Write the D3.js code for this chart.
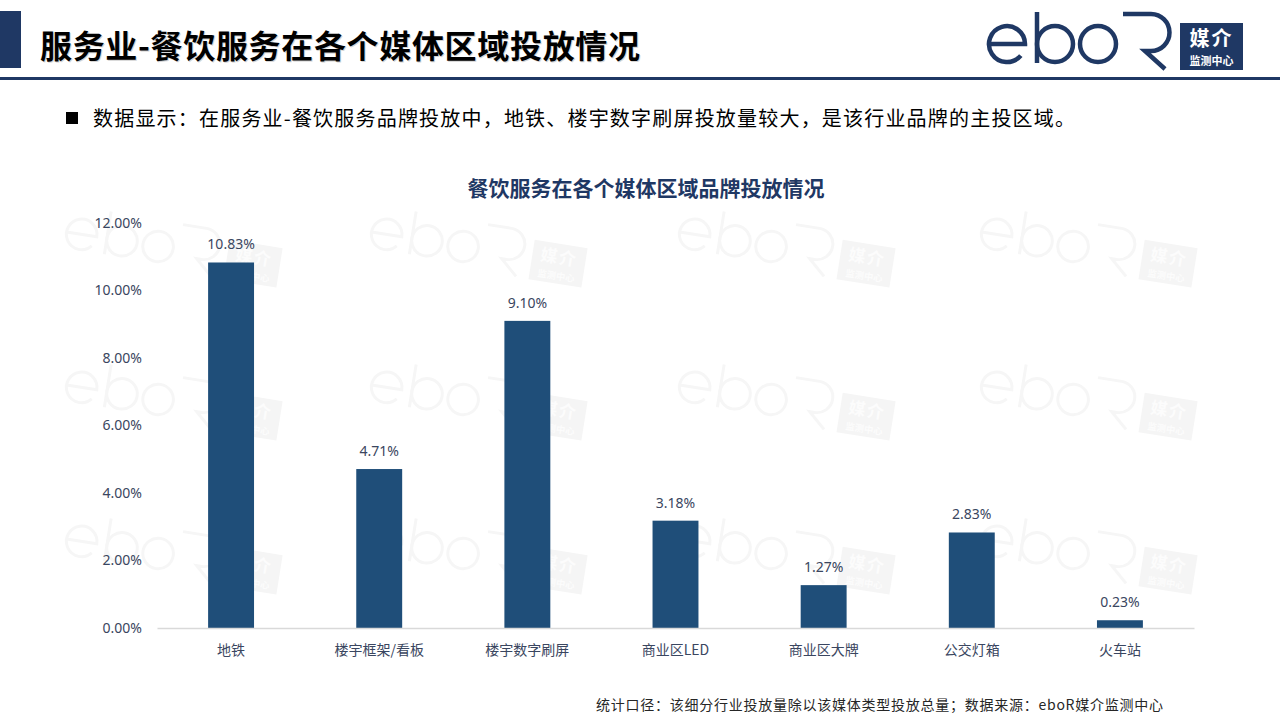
<!DOCTYPE html>
<html lang="zh">
  <head>
    <meta charset="UTF-8" />
    <title>餐饮服务在各个媒体区域投放情况</title>
    <script src="https://cdn.jsdelivr.net/npm/d3@7"></script>
    <style>
      html, body { margin: 0; padding: 0; background: #fff; }
      svg { display: block; font-family: "Noto Sans CJK SC", "Noto Sans", sans-serif; }
    </style>
  </head>
  <body>
    <svg width="1280" height="720"></svg>
  </body>

  <script>
    // 数据
    var categories = ['地铁', '楼宇框架/看板', '楼宇数字刷屏', '商业区LED', '商业区大牌', '公交灯箱', '火车站'];
    var values = [10.83, 4.71, 9.10, 3.18, 1.27, 2.83, 0.23];
    var yTicks = [0, 2, 4, 6, 8, 10, 12];

    var navy = '#1f3864';
    var barColor = '#1f4e79';
    var labelColor = '#3a4660';

    var svg = d3.select('svg');

    // logo: eboR + 媒介监测中心
    function drawLogo(g, stroke, boxFill, boxText, sw) {
      g.append('path')
        .attr('d', 'M1,32 H37 A18,18 0 1 0 32.8,43.6')
        .attr('fill', 'none').attr('stroke', stroke).attr('stroke-width', sw);
      g.append('path')
        .attr('d', 'M49,0 V51')
        .attr('fill', 'none').attr('stroke', stroke).attr('stroke-width', sw);
      g.append('circle').attr('cx', 67).attr('cy', 32).attr('r', 18)
        .attr('fill', 'none').attr('stroke', stroke).attr('stroke-width', sw);
      g.append('circle').attr('cx', 110).attr('cy', 32).attr('r', 18)
        .attr('fill', 'none').attr('stroke', stroke).attr('stroke-width', sw);
      g.append('path')
        .attr('d', 'M135,2 H163 A18.5,18.5 0 0 1 163,39 H157 L177,57')
        .attr('fill', 'none').attr('stroke', stroke).attr('stroke-width', sw);
      g.append('rect').attr('x', 192).attr('y', 11).attr('width', 63).attr('height', 47)
        .attr('fill', boxFill);
      g.append('text').attr('x', 223.5).attr('y', 34).attr('text-anchor', 'middle')
        .attr('fill', boxText).attr('font-size', 20).attr('font-weight', 700)
        .attr('letter-spacing', 2).text('媒介');
      g.append('text').attr('x', 223.5).attr('y', 53).attr('text-anchor', 'middle')
        .attr('fill', boxText).attr('font-size', 11).attr('font-weight', 700)
        .text('监测中心');
    }

    // 水印
    var wmCols = [70, 375, 683, 985];
    var wmRows = [205, 358, 512];
    wmRows.forEach(function (y) {
      wmCols.forEach(function (x) {
        var w = svg.append('g')
          .attr('transform', 'translate(' + x + ',' + y + ') rotate(9) scale(0.85)');
        drawLogo(w, '#f6f6f6', '#f5f5f5', '#fcfcfc', 3.5);
      });
    });

    // 标题栏
    svg.append('rect').attr('x', 0).attr('y', 11).attr('width', 21).attr('height', 57).attr('fill', navy);
    var title = '服务业-餐饮服务在各个媒体区域投放情况';
    svg.append('text')
      .attr('x', 41).attr('y', 59)
      .attr('font-size', 32).attr('font-weight', 700).attr('fill', '#d4d4d4')
      .attr('textLength', 600).attr('lengthAdjust', 'spacing')
      .text(title);
    svg.append('text')
      .attr('x', 40).attr('y', 58)
      .attr('font-size', 32).attr('font-weight', 700).attr('fill', '#000')
      .attr('textLength', 600).attr('lengthAdjust', 'spacing')
      .text(title);
    svg.append('rect').attr('x', 0).attr('y', 77).attr('width', 1280).attr('height', 3).attr('fill', navy);
    drawLogo(svg.append('g').attr('transform', 'translate(988,12)'), navy, navy, '#fff', 4.5);

    // 说明文字
    svg.append('rect').attr('x', 66).attr('y', 112).attr('width', 12).attr('height', 12).attr('fill', '#000');
    svg.append('text')
      .attr('x', 93).attr('y', 126)
      .attr('font-size', 20).attr('fill', '#000')
      .attr('textLength', 982).attr('lengthAdjust', 'spacing')
      .text('数据显示：在服务业-餐饮服务品牌投放中，地铁、楼宇数字刷屏投放量较大，是该行业品牌的主投区域。');

    // 图表
    var plot = { left: 157, right: 1194, top: 223, bottom: 628 };

    var scaleX = d3.scaleBand()
      .domain(categories)
      .range([plot.left, plot.right])
      .paddingInner(0.69)
      .paddingOuter(0.345);

    var scaleY = d3.scaleLinear()
      .domain([0, 12])
      .range([plot.bottom, plot.top]);

    svg.append('text')
      .attr('x', 646).attr('y', 196)
      .attr('text-anchor', 'middle')
      .attr('font-size', 21).attr('font-weight', 700).attr('fill', navy)
      .text('餐饮服务在各个媒体区域品牌投放情况');

    // y轴
    var axisY = svg.append('g')
      .attr('transform', 'translate(' + (plot.left - 15) + ',0)')
      .call(d3.axisLeft(scaleY).tickValues(yTicks).tickSize(0).tickPadding(0)
        .tickFormat(function (d) { return d.toFixed(2) + '%'; }));
    axisY.select('.domain').remove();
    axisY.selectAll('text')
      .attr('font-family', '"Noto Sans", sans-serif')
      .attr('font-size', 14).attr('fill', labelColor);

    // 柱子
    svg.append('g').selectAll('rect')
      .data(values)
      .enter().append('rect')
      .attr('x', function (d, i) { return scaleX(categories[i]); })
      .attr('y', function (d) { return scaleY(d); })
      .attr('width', scaleX.bandwidth())
      .attr('height', function (d) { return plot.bottom - scaleY(d); })
      .attr('fill', barColor);

    // x轴
    var axisX = svg.append('g')
      .attr('transform', 'translate(0,' + plot.bottom + ')')
      .call(d3.axisBottom(scaleX).tickSize(0).tickPadding(17).tickSizeOuter(0));
    axisX.select('.domain').attr('stroke', '#d9d9d9').attr('stroke-width', 1.3);
    axisX.selectAll('text')
      .attr('font-family', '"Noto Sans CJK SC", sans-serif')
      .attr('font-size', 14).attr('fill', labelColor);

    // 数值标签
    svg.append('g').selectAll('text')
      .data(values)
      .enter().append('text')
      .attr('x', function (d, i) { return scaleX(categories[i]) + scaleX.bandwidth() / 2; })
      .attr('y', function (d) { return scaleY(d) - 13; })
      .attr('text-anchor', 'middle')
      .attr('font-family', '"Noto Sans", sans-serif')
      .attr('font-size', 14).attr('fill', labelColor)
      .text(function (d) { return d.toFixed(2) + '%'; });

    // 脚注
    svg.append('text')
      .attr('x', 596).attr('y', 710)
      .attr('font-size', 14).attr('fill', '#262626')
      .attr('textLength', 567).attr('lengthAdjust', 'spacing')
      .text('统计口径：该细分行业投放量除以该媒体类型投放总量；数据来源：eboR媒介监测中心');
  </script>
</html>
